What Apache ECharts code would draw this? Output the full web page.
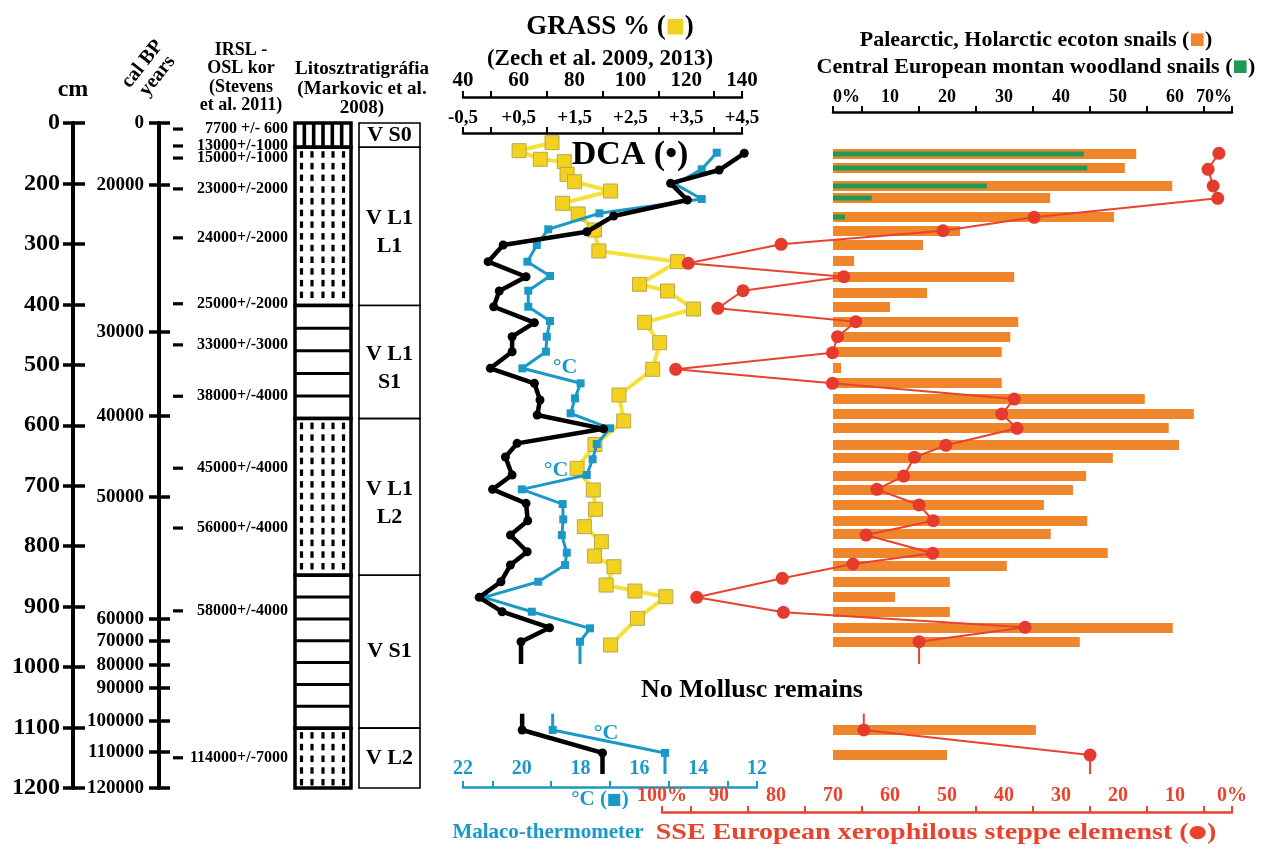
<!DOCTYPE html>
<html><head><meta charset="utf-8">
<script src="https://cdn.jsdelivr.net/npm/echarts@6/dist/echarts.min.js"></script>
<style>html,body{margin:0;padding:0;background:#fff}#c{width:1269px;height:849px}</style>
</head><body><div id="c"></div>
<script>
// ---------------- DATA ----------------
// depth axis (cm); the top of the section (surface, labelled 0) sits at axis value 100
const depthTicks = [100,200,300,400,500,600,700,800,900,1000,1100,1200];
const depthTickLabels = ['0','200','300','400','500','600','700','800','900','1000','1100','1200'];

// cal BP age-depth ticks
const calAgeLabels = ['0','20000','30000','40000','50000','60000','70000','80000','90000','100000','110000','120000'];
const calAgeDepths = [100,202.6,445.3,584.7,718.2,920.5,956.4,996.6,1034.6,1089.2,1140.5,1200];

// IRSL-OSL dates
const irslLabels = ['7700 +/- 600','13000+/-1000','15000+/-1000','23000+/-2000','24000+/-2000','25000+/-2000','33000+/-3000','38000+/-4000','45000+/-4000','56000+/-4000','58000+/-4000','114000+/-7000'];
const irslDepths = [110,138,158,209,290,399,467,552,671,770,907,1150];

// lithology / stratigraphic units
const unitTops    = [100,140,402,589,848,1101];
const unitBottoms = [140,402,589,848,1101,1200];
const lithoTypes  = ['soil','loess','paleosol','loess','paleosol','loess'];
const unitNames   = ['V S0','V L1\nL1','V L1\nS1','V L1\nL2','V S1','V L2'];

// GRASS %
const grassDepths = [132.6,145.8,160,164,184.9,197.1,212.5,232.8,250.5,277,311.7,329.4,366.8,377.9,407.7,429.7,463.4,507.4,549.9,592.9,631.8,671.2,707.1,739,767.8,792.6,816.3,834,864.3,874.2,883.6,919.4,963.5];
const grassValues = [71.9,60.1,67.7,76.3,77.3,80.0,92.9,75.7,81.3,87.1,88.7,116.9,103.3,113.3,122.6,105.1,110.5,108.0,95.9,97.6,87.3,80.9,86.7,87.5,83.5,89.6,87.1,94.1,91.3,101.6,112.7,102.5,92.9];

// DCA
const dcaDepths = [150.1,177.8,199.8,227.4,253.8,279.8,301.8,329.4,354.3,377.9,403.9,430.3,453.5,478.3,505.8,530.6,558.2,583,605.9,629.9,652.5,682.3,706,729.1,757.9,781.6,809.2,831.2,858.8,884.6,908.4,934.9,958];
const dcaValues = [4.54,4.09,3.22,3.52,2.20,1.72,0.22,-0.05,0.63,0.15,0.05,0.78,0.38,0.38,-0.01,0.78,0.88,0.83,2.02,0.47,0.26,0.38,0.03,0.63,0.66,0.35,0.65,0.35,0.18,-0.21,0.20,1.05,0.54];
const dcaLowerDepths = [1104,1142];
const dcaLowerValues = [0.56,2.0];

// Malaco-thermometer (deg C)
const tempDepths = [149.1,176.6,200.9,225.7,249.4,275.8,301.8,329.4,353.1,377.4,403.9,427.5,453.5,478.3,505.8,530.6,555.4,580.2,605,631,656.3,682.3,706,730.3,755.6,781.6,810.8,831.2,858.8,884.6,908.4,935.9,958];
const tempValues = [13.37,13.88,14.79,13.88,17.36,19.10,19.49,19.81,19.04,19.78,19.78,19.04,19.15,19.18,19.98,18.00,18.19,18.34,17.00,17.45,17.59,17.79,20.00,18.61,18.59,18.64,18.47,18.53,19.44,21.28,19.66,17.68,18.02];
const tempLowerDepths = [1104,1142];
const tempLowerValues = [18.95,15.13];

// SSE European xerophilous steppe elements (%)
const steppeDepths = [150.1,176.6,204.2,224.6,256,278.2,300.7,332.1,354.3,377.4,406.5,428.7,453.5,480,507.4,530.6,556.6,581.4,605,633.2,652.8,684,706,731.9,757.9,781.6,811.8,829.5,853.2,884.6,909.4,934.2,958];
const steppeValues = [2.3,4.2,3.3,2.5,34.7,50.7,79.1,95.4,68.1,85.8,90.2,66.0,69.2,70.1,97.6,70.1,38.2,40.4,37.7,50.2,55.7,57.6,62.3,54.9,52.4,64.2,52.5,66.5,78.9,93.9,78.7,36.3,54.9];
const steppeLowerDepths = [1104.1,1145.5];
const steppeLowerValues = [64.6,24.9];

// snail bars (%)
const barDepths = [151.3,174.4,204.2,224.1,255.5,278.7,301.8,328.3,354.8,381.2,404.4,429.2,454,478.8,505.3,530.1,556.6,581.4,604.6,632.7,654.2,684,707.1,731.9,758.4,779.9,811.3,832.8,859.3,884.1,908.9,935.4,958.6,1104.1,1145.5];
const ecotonValues = [53.2,51.2,59.5,38.1,49.3,22.3,15.8,3.7,31.8,16.5,10.0,32.5,31.1,29.6,1.4,29.6,54.7,63.3,58.9,60.7,49.1,44.4,42.1,37.0,44.6,38.2,48.2,30.5,20.5,10.9,20.5,59.6,43.3,35.6,20.0];
const woodlandValues = [44.0,44.6,27.0,6.8,2.1];

// line continuation marks (depths)
const upperTailDepth = 995;
const lowerTailTop = 1077;
const lowerTailBottom = 1177;

// axis ticks / labels
const grassTicks = [40,50,70,90,110,130,140];
const grassLabels = [40,60,80,100,120,140];
const dcaTicks = [-0.5,0,1,2,3,4,4.5];
const dcaLabels = [-0.5,0.5,1.5,2.5,3.5,4.5];
const tempTicks = [12,13,15,17,19,21,22];
const tempLabels = [12,14,16,18,20,22];
const steppeTicks = [0,5,15,25,35,45,55,65,75,85,95,100];
const steppeLabels = [0,10,20,30,40,50,60,70,80,90,100];
const snailTicks = [0,5,15,25,35,45,55,65,70];
const snailLabels = [0,10,20,30,40,50,60,70];

// ---------------- STYLE ----------------
const SERIF = '"Liberation Serif","Times New Roman",serif';
const BLUE = '#1c98c6', RED = '#e8432e', ORANGE = '#f0862c', GREEN = '#1e9a55', YELLOW = '#f4e13a', YSQ = '#f2d21f';
const TOP = 123, H = 665;

function lab(size, color, extra) {
  return Object.assign({fontSize: size, fontWeight: 'bold', fontFamily: SERIF, color: color || '#000'}, extra || {});
}
function hidX(g) { return {type: 'value', gridIndex: g, min: 0, max: 1, show: false}; }
function hidY(g) { return {type: 'value', gridIndex: g, min: 100, max: 1200, inverse: true, show: false}; }

const grids = [
  {left: 73, width: 10},   // 0 depth line + labels
  {left: 85, width: 10},   // 1 depth ticks
  {left: 159, width: 10},  // 2 cal BP line + labels
  {left: 170, width: 10},  // 3 cal BP ticks
  {left: 295, width: 56},  // 4 lithology
  {left: 359, width: 61},  // 5 units
  {left: 463, width: 279}, // 6 grass
  {left: 463, width: 279}, // 7 DCA
  {left: 463, width: 294}, // 8 temperature
  {left: 662, width: 570}, // 9 steppe
  {left: 833, width: 399}  // 10 snail bars
].map(g => Object.assign({top: TOP, height: H, containLabel: false}, g));

const yAxes = grids.map((g, i) => hidY(i));
yAxes[0] = {type: 'value', gridIndex: 0, min: 100, max: 1200, interval: 100, inverse: true, position: 'left',
  axisLine: {show: true, onZero: false, lineStyle: {color: '#000', width: 4}}, axisTick: {show: false}, splitLine: {show: false},
  axisLabel: lab(24, '#000', {customValues: depthTicks, margin: 13, formatter: v => depthTickLabels[depthTicks.indexOf(v)]})};
yAxes[1] = {type: 'value', gridIndex: 1, min: 100, max: 1200, interval: 100, inverse: true, position: 'left',
  axisLine: {show: false, onZero: false}, splitLine: {show: false}, axisLabel: {show: false},
  axisTick: {show: true, customValues: depthTicks, length: 22, lineStyle: {color: '#000', width: 3.5}}};
yAxes[2] = {type: 'value', gridIndex: 2, min: 100, max: 1200, inverse: true, position: 'left',
  axisLine: {show: true, onZero: false, lineStyle: {color: '#000', width: 4}}, axisTick: {show: false}, splitLine: {show: false},
  axisLabel: lab(19, '#000', {customValues: calAgeDepths, margin: 15, formatter: v => calAgeLabels[calAgeDepths.indexOf(v)]})};
yAxes[3] = {type: 'value', gridIndex: 3, min: 100, max: 1200, inverse: true, position: 'left',
  axisLine: {show: false, onZero: false}, splitLine: {show: false}, axisLabel: {show: false},
  axisTick: {show: true, customValues: calAgeDepths, length: 21, lineStyle: {color: '#000', width: 3.5}}};

const xAxes = grids.map((g, i) => hidX(i));
xAxes[6] = {type: 'value', gridIndex: 6, min: 40, max: 140, position: 'top', offset: 26, splitLine: {show: false},
  axisLine: {show: true, onZero: false, lineStyle: {color: '#000', width: 2.5}},
  axisTick: {show: true, customValues: grassTicks, length: 6, lineStyle: {color: '#000', width: 2}},
  axisLabel: lab(21, '#000', {customValues: grassLabels, margin: 6})};
xAxes[7] = {type: 'value', gridIndex: 7, min: -0.5, max: 4.5, position: 'top', offset: -10, splitLine: {show: false},
  axisLine: {show: true, onZero: false, lineStyle: {color: '#000', width: 2.5}},
  axisTick: {show: true, customValues: dcaTicks, length: 6, lineStyle: {color: '#000', width: 2}},
  axisLabel: lab(19, '#000', {customValues: dcaLabels, margin: 5,
    formatter: v => (v < 0 ? '-' : '+') + String(Math.abs(v)).replace('.', ',')})};
xAxes[8] = {type: 'value', gridIndex: 8, min: 12, max: 22, inverse: true, position: 'bottom', offset: -1, splitLine: {show: false},
  axisLine: {show: true, onZero: false, lineStyle: {color: BLUE, width: 2.5}},
  axisTick: {show: true, inside: true, customValues: tempTicks, length: 6, lineStyle: {color: BLUE, width: 2}},
  axisLabel: lab(20, BLUE, {customValues: tempLabels, inside: true, margin: 8})};
xAxes[9] = {type: 'value', gridIndex: 9, min: 0, max: 100, inverse: true, position: 'bottom', offset: 24, splitLine: {show: false},
  axisLine: {show: true, onZero: false, lineStyle: {color: RED, width: 2.5}},
  axisTick: {show: true, inside: true, customValues: steppeTicks, length: 6, lineStyle: {color: RED, width: 2}},
  axisLabel: lab(20, RED, {customValues: steppeLabels, inside: true, margin: 6,
    formatter: v => (v === 0 || v === 100) ? v + '%' : String(v)})};
xAxes[10] = {type: 'value', gridIndex: 10, min: 0, max: 70, position: 'top', offset: 11, splitLine: {show: false},
  axisLine: {show: true, onZero: false, lineStyle: {color: '#000', width: 2.5}},
  axisTick: {show: true, customValues: snailTicks, length: 6, lineStyle: {color: '#000', width: 2}},
  axisLabel: lab(18, '#000', {customValues: snailLabels, margin: 6, alignMinLabel: 'left', alignMaxLabel: 'right',
    formatter: v => (v === 0 || v === 70) ? v + '%' : String(v)})};

// --------------- SERIES ---------------
function pairs(vals, deps) { return vals.map((v, i) => [v, deps[i]]); }

const lithoSeries = {
  type: 'custom', xAxisIndex: 4, yAxisIndex: 4, clip: false, z: 3,
  data: unitTops.map((t, i) => [0.5, t, unitBottoms[i]]),
  encode: {x: 0, y: [1, 2]},
  renderItem: function (params, api) {
    const i = params.dataIndex;
    const cs = params.coordSys;
    const y0 = api.coord([0, api.value(1)])[1], y1 = api.coord([0, api.value(2)])[1];
    const x0 = cs.x, w = cs.width, h = y1 - y0;
    const ch = [];
    ch.push({type: 'rect', shape: {x: x0, y: y0, width: w, height: h}, style: {fill: '#fff'}});
    const t = lithoTypes[i];
    if (t === 'soil') {
      for (let k = 1; k <= 5; k++) ch.push({type: 'rect', shape: {x: x0 + w * k / 6 - 1.8, y: y0, width: 3.6, height: h}, style: {fill: '#000'}});
    } else if (t === 'loess') {
      const cols = [6.5, 17, 28, 38, 48.5];
      for (let yy = y0 + 4; yy + 5 <= y1; yy += 11.7) {
        cols.forEach(c => ch.push({type: 'rect', shape: {x: x0 + c - 1.6, y: yy, width: 3.2, height: Math.min(6.5, y1 - yy)}, style: {fill: '#000'}}));
      }
    } else {
      const n = Math.round(h / 21) - 1;
      for (let k = 1; k <= n; k++) {
        const yy = y0 + k * h / (n + 1);
        ch.push({type: 'line', shape: {x1: x0, y1: yy, x2: x0 + w, y2: yy}, style: {stroke: '#000', lineWidth: 3}});
      }
    }
    ch.push({type: 'rect', shape: {x: x0, y: y0, width: w, height: h}, style: {fill: 'none', stroke: '#000', lineWidth: 3.5}});
    return {type: 'group', children: ch};
  }
};

const unitSeries = {
  type: 'custom', xAxisIndex: 5, yAxisIndex: 5, clip: false, z: 3,
  data: unitTops.map((t, i) => [0.5, t, unitBottoms[i]]),
  encode: {x: 0, y: [1, 2]},
  renderItem: function (params, api) {
    const i = params.dataIndex;
    const cs = params.coordSys;
    const y0 = api.coord([0, api.value(1)])[1], y1 = api.coord([0, api.value(2)])[1];
    return {type: 'group', children: [
      {type: 'rect', shape: {x: cs.x, y: y0, width: cs.width, height: y1 - y0}, style: {fill: '#fff', stroke: '#000', lineWidth: 1.6}},
      {type: 'text', x: cs.x + cs.width / 2, y: (y0 + y1) / 2 + (unitNames[i].indexOf('\n') > 0 ? 6 : 0),
        style: {text: unitNames[i], fill: '#000', fontSize: 22, fontWeight: 'bold', fontFamily: SERIF, lineHeight: 28,
          align: 'center', verticalAlign: 'middle'}}
    ]};
  }
};

const irslSeries = {
  type: 'custom', xAxisIndex: 2, yAxisIndex: 2, clip: false, z: 3,
  data: irslDepths.map(d => [0, d]),
  encode: {x: 0, y: 1},
  renderItem: function (params, api) {
    const i = params.dataIndex;
    const cs = params.coordSys;
    const y = api.coord([0, api.value(1)])[1];
    return {type: 'group', children: [
      {type: 'rect', shape: {x: cs.x + 14, y: y - 1.6, width: 10, height: 3.2}, style: {fill: '#000'}},
      {type: 'text', x: cs.x + 129, y: y,
        style: {text: irslLabels[i], fill: '#000', fontSize: 16, fontWeight: 'bold', fontFamily: SERIF,
          align: 'right', verticalAlign: 'middle'}}
    ]};
  }
};

function barSeries(vals, deps, color, hgt) {
  return {
    type: 'custom', xAxisIndex: 10, yAxisIndex: 10, clip: false, z: 2,
    data: pairs(vals, deps), encode: {x: 0, y: 1},
    renderItem: function (params, api) {
      const p0 = api.coord([0, api.value(1)]), p1 = api.coord([api.value(0), api.value(1)]);
      return {type: 'rect', shape: {x: p0[0], y: p0[1] - hgt / 2, width: p1[0] - p0[0], height: hgt}, style: {fill: color}};
    }
  };
}

function lineSeries(xi, vals, deps, opts, tailTop, tailBottom) {
  const data = pairs(vals, deps);
  if (tailTop != null) data.unshift({value: [vals[0], tailTop], symbol: 'none'});
  if (tailBottom != null) data.push({value: [vals[vals.length - 1], tailBottom], symbol: 'none'});
  return Object.assign({type: 'line', xAxisIndex: xi, yAxisIndex: xi, clip: false, data: data,
    showAllSymbol: true, animation: false}, opts);
}

const grassOpts = {z: 4, symbol: 'rect', symbolSize: 14, lineStyle: {color: YELLOW, width: 4},
  itemStyle: {color: YSQ, borderColor: '#b9a74e', borderWidth: 1}};
const tempOpts = {z: 5, symbol: 'rect', symbolSize: 8, lineStyle: {color: BLUE, width: 3}, itemStyle: {color: BLUE}};
const dcaOpts = {z: 6, symbol: 'circle', symbolSize: 9, lineStyle: {color: '#000', width: 4.5}, itemStyle: {color: '#000'}};
const steppeOpts = {z: 7, symbol: 'circle', symbolSize: 13, lineStyle: {color: RED, width: 2}, itemStyle: {color: '#e53b2f'}};

const series = [
  lithoSeries, unitSeries, irslSeries,
  barSeries(ecotonValues, barDepths, ORANGE, 10),
  barSeries(woodlandValues, barDepths.slice(0, woodlandValues.length), GREEN, 5),
  lineSeries(6, grassValues, grassDepths, grassOpts),
  lineSeries(8, tempValues, tempDepths, tempOpts, null, upperTailDepth),
  lineSeries(8, tempLowerValues, tempLowerDepths, tempOpts, lowerTailTop, lowerTailBottom),
  lineSeries(7, dcaValues, dcaDepths, dcaOpts, null, upperTailDepth),
  lineSeries(7, dcaLowerValues, dcaLowerDepths, dcaOpts, lowerTailTop, lowerTailBottom),
  lineSeries(9, steppeValues, steppeDepths, steppeOpts, null, upperTailDepth),
  lineSeries(9, steppeLowerValues, steppeLowerDepths, steppeOpts, lowerTailTop, lowerTailBottom)
];

// --------------- TEXT ---------------
function txt(text, x, y, size, color, extra) {
  return {type: 'text', x: x, y: y, z: 10,
    style: Object.assign({text: text, fill: color || '#000', fontSize: size, fontWeight: 'bold', fontFamily: SERIF,
      align: 'center', verticalAlign: 'middle', textAlign: 'center', textVerticalAlign: 'middle'}, extra || {})};
}
function richTxt(parts, x, y, size, color, mark, markColor) {
  const base = {fill: color, fontSize: size, fontWeight: 'bold', fontFamily: SERIF};
  return {type: 'text', x: x, y: y, z: 10,
    style: {text: '{a|' + parts + ' (}{m|' + mark + '}{a|)}', align: 'center', verticalAlign: 'middle',
      textAlign: 'center', textVerticalAlign: 'middle', fontSize: size, fontWeight: 'bold', fontFamily: SERIF, fill: color,
      rich: {a: base, m: {fill: markColor, fontSize: size * 0.75, fontWeight: 'bold', fontFamily: 'DejaVu Sans'}}}};
}

const graphics = [
  txt('cm', 73, 90, 24),
  Object.assign(txt('cal BP\nyears', 150, 70, 20, '#000', {lineHeight: 19}), {rotation: 0.9}),
  txt('IRSL -\nOSL kor\n(Stevens\net al. 2011)', 241, 78, 18, '#000', {lineHeight: 18.5}),
  txt('Litosztratigráfia\n(Markovic et al.\n2008)', 362, 89, 19, '#000', {lineHeight: 19.5}),
  richTxt('GRASS %', 610, 27, 27, '#000', '■', YSQ),
  txt('(Zech et al. 2009, 2013)', 600, 59, 23),
  txt('DCA (•)', 630, 155, 34),
  richTxt('Palearctic, Holarctic ecoton snails', 1036, 40, 22, '#000', '■', ORANGE),
  richTxt('Central European montan woodland snails', 1036, 67, 22, '#000', '■', GREEN),
  txt('°C', 565, 367, 22, BLUE),
  txt('°C', 556, 470, 22, BLUE),
  txt('°C', 606, 733, 22, BLUE),
  txt('No Mollusc remains', 752, 690, 26),
  richTxt('°C', 600, 800, 21, BLUE, '■', BLUE),
  txt('Malaco-thermometer', 548, 833, 21, BLUE),
  Object.assign(richTxt('SSE European xerophilous steppe elemenst', 936, 833, 23, RED, '●', RED), {scaleX: 1.22})
];

const chart = echarts.init(document.getElementById('c'), null, {renderer: 'canvas'});
chart.setOption({
  animation: false,
  backgroundColor: '#fff',
  textStyle: {fontFamily: SERIF, fontWeight: 'bold'},
  grid: grids, xAxis: xAxes, yAxis: yAxes, series: series,
  graphic: {elements: graphics}
});
</script></body></html>
